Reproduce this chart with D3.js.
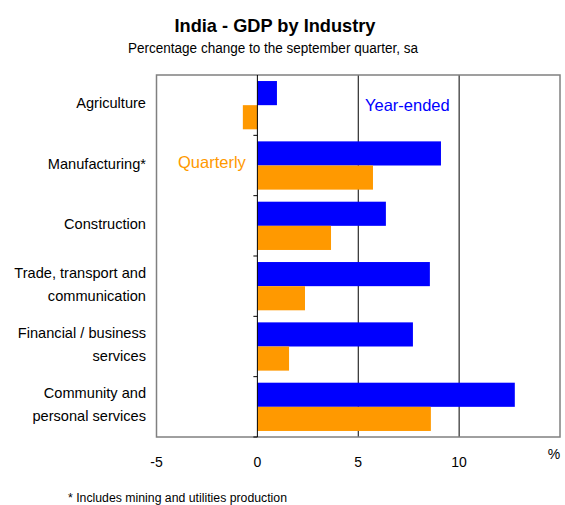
<!DOCTYPE html>
<html>
<head>
<meta charset="utf-8" />
<title>India - GDP by Industry</title>
<script src="https://cdn.jsdelivr.net/npm/d3@7"></script>
<style>
  body { margin: 0; background: #fff; }
  text { font-family: "Liberation Sans", Arial, sans-serif; }
</style>
</head>
<body>
<script>
var width = 565, height = 505;

var categories = [["Agriculture"], ["Manufacturing*"], ["Construction"],
  ["Trade, transport and", "communication"], ["Financial / business", "services"],
  ["Community and", "personal services"]];
var yearEnded = [0.97, 9.1, 6.37, 8.55, 7.71, 12.76];
var quarterly = [-0.72, 5.73, 3.65, 2.36, 1.57, 8.6];
var xTicks = [-5, 0, 5, 10];

var margin = {top: 75, right: 5, bottom: 68, left: 156.5};

var svg = d3.select('body').append('svg').attr('width', width).attr('height', height);

var x = d3.scaleLinear().domain([-5, 15]).range([margin.left, width - margin.right]);
var y = d3.scaleBand().domain(d3.range(categories.length))
  .range([margin.top, height - margin.bottom]).paddingInner(0.2).paddingOuter(0.1);

// title
svg.append('text').attr('x', 275).attr('y', 32).attr('text-anchor', 'middle')
  .style('font-size', '19px').style('font-weight', 'bold')
  .attr('textLength', 201).attr('lengthAdjust', 'spacingAndGlyphs')
  .text('India - GDP by Industry');
svg.append('text').attr('x', 273).attr('y', 53).attr('text-anchor', 'middle')
  .style('font-size', '14px')
  .attr('textLength', 290).attr('lengthAdjust', 'spacingAndGlyphs')
  .text('Percentage change to the september quarter, sa');

// grid lines
svg.append('g').selectAll('line').data([5, 10]).enter().append('line')
  .attr('x1', d => x(d)).attr('x2', d => x(d))
  .attr('y1', margin.top).attr('y2', height - margin.bottom)
  .attr('stroke', '#000').attr('stroke-width', 1);

// bars
var bh = y.bandwidth() / 2;
svg.append('g').selectAll('rect').data(yearEnded).enter().append('rect')
  .attr('x', d => x(Math.min(0, d))).attr('width', d => Math.abs(x(d) - x(0)))
  .attr('y', (d, i) => y(i)).attr('height', bh).attr('fill', '#0000ff');
svg.append('g').selectAll('rect').data(quarterly).enter().append('rect')
  .attr('x', d => x(Math.min(0, d))).attr('width', d => Math.abs(x(d) - x(0)))
  .attr('y', (d, i) => y(i) + bh).attr('height', bh).attr('fill', '#ff9900');

// plot border
svg.append('rect').attr('x', margin.left).attr('y', margin.top)
  .attr('width', width - margin.right - margin.left)
  .attr('height', height - margin.bottom - margin.top)
  .attr('fill', 'none').attr('stroke', '#808080').attr('stroke-width', 1.5);

// zero axis with ticks at category boundaries
var bounds = d3.range(categories.length + 1).map(i => margin.top + i * (height - margin.bottom - margin.top) / categories.length);
var zeroAxis = svg.append('g');
zeroAxis.append('line').attr('x1', x(0)).attr('x2', x(0))
  .attr('y1', margin.top).attr('y2', height - margin.bottom).attr('stroke', '#000');
zeroAxis.selectAll('.tk').data(bounds.slice(1)).enter().append('line')
  .attr('x1', x(0) - 4).attr('x2', x(0)).attr('y1', d => d).attr('y2', d => d)
  .attr('stroke', '#000');

// category labels
svg.append('g').selectAll('text').data(categories).enter().append('text')
  .attr('text-anchor', 'end').style('font-size', '14.6px').attr('fill', '#000')
  .each(function(d, i) {
    var cy = (bounds[i] + bounds[i + 1]) / 2;
    var t = d3.select(this);
    d.forEach(function(line, j) {
      t.append('tspan').attr('x', 146)
        .attr('y', cy + 3 + (j - (d.length - 1) / 2) * 23).text(line);
    });
  });

// x tick labels
svg.append('g').selectAll('text').data(xTicks).enter().append('text')
  .attr('x', d => x(d)).attr('y', 467).attr('text-anchor', 'middle')
  .style('font-size', '14px').text(d => d);
svg.append('text').attr('x', 554).attr('y', 459).attr('text-anchor', 'middle')
  .style('font-size', '14px').text('%');

// series labels
svg.append('text').attr('x', 365).attr('y', 111).style('font-size', '16.5px')
  .attr('fill', '#0000ff').text('Year-ended');
svg.append('text').attr('x', 178).attr('y', 168).style('font-size', '16.5px')
  .attr('fill', '#ff9900').text('Quarterly');

// footnote
svg.append('text').attr('x', 68).attr('y', 502).style('font-size', '12px')
  .attr('textLength', 219).attr('lengthAdjust', 'spacingAndGlyphs')
  .text('* Includes mining and utilities production');
</script>
</body>
</html>
